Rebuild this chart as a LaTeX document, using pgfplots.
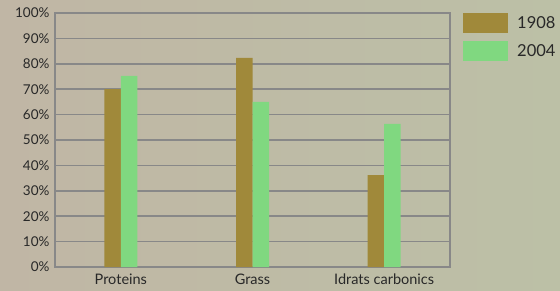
\documentclass[border=0pt]{standalone}
\usepackage{pgfplots}
\pgfplotsset{compat=1.18}
\usepackage{fontspec}
\setmainfont{Lato}
\definecolor{bgL}{RGB}{192,182,165}
\definecolor{bgR}{RGB}{188,192,166}
\definecolor{gridc}{RGB}{136,136,136}
\definecolor{cA}{RGB}{160,137,58}
\definecolor{cB}{RGB}{128,216,128}
\definecolor{txt}{RGB}{40,40,40}
\begin{document}
\begin{tikzpicture}[x=1pt,y=1pt]
\shade[left color=bgL,right color=bgR] (0,0) rectangle (560,290);
\path[use as bounding box] (0,0) rectangle (560,290);
\begin{axis}[
  at={(55pt,23pt)}, anchor=south west,
  scale only axis, width=395pt, height=254pt,
  ybar=0pt, bar width=16.5pt,
  xmin=-0.5, xmax=2.5, ymin=0, ymax=100,
  xtick={0,1,2}, xticklabels={Proteins,Grass,Idrats carbonics},
  ytick={0,10,...,100},
  yticklabel={\pgfmathprintnumber{\tick}\%},
  /pgf/number format/assume math mode=true,
  major tick length=0pt,
  ymajorgrids, grid style={gridc,line width=1.6pt},
  axis line style={gridc,line width=1.8pt},
  yticklabel style={font=\fontsize{13.5}{13.5}\selectfont, text=txt, xshift=-2pt},
  xticklabel style={font=\fontsize{14.5}{14.5}\selectfont, text=txt, yshift=-3pt},
  legend style={at={(1,1)}, anchor=north west, xshift=10pt, yshift=2pt, draw=none, fill=none,
    font=\fontsize{16.5}{16.5}\selectfont, text=txt, row sep=8pt,
    legend cell align=left},
  legend image code/.code={\fill[#1,draw=none] (0pt,-10pt) rectangle (45pt,10pt);},
]
\addplot[fill=cA, draw=none] coordinates {(0,70) (1,82.3) (2,36.2)};
\addplot[fill=cB, draw=none] coordinates {(0,75.2) (1,65) (2,56.3)};
\legend{\hspace{7pt}1908,\hspace{7pt}2004}
\end{axis}
\end{tikzpicture}
\end{document}
